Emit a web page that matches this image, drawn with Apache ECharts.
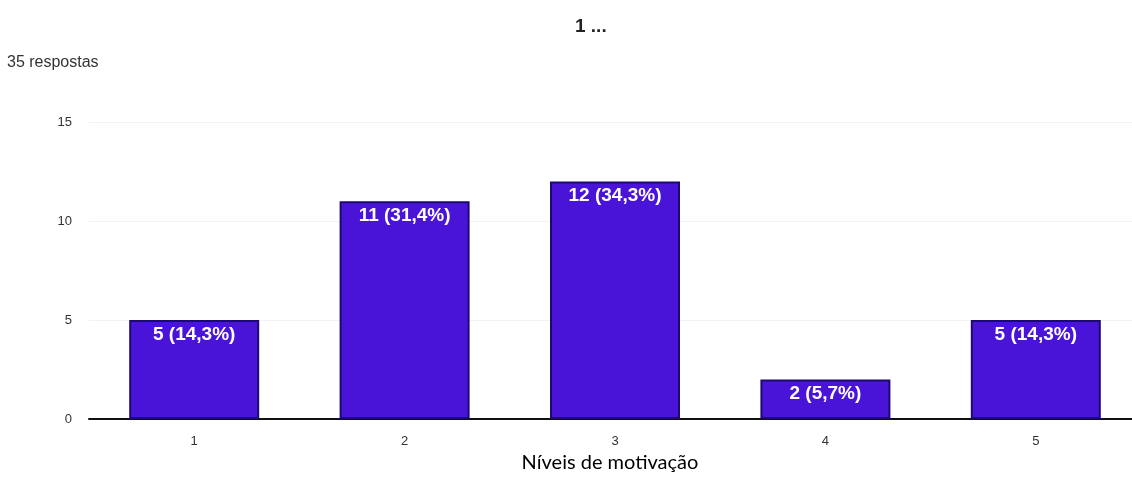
<!DOCTYPE html>
<html><head><meta charset="utf-8">
<script src="https://cdn.jsdelivr.net/npm/echarts@6/dist/echarts.min.js"></script>
<style>html,body{margin:0;padding:0;background:#fff}#c{width:1132px;height:477px}</style>
</head><body><div id="c"></div>
<script>
const categories = ['1', '2', '3', '4', '5'];
const counts = [5, 11, 12, 2, 5];
const percents = ['14,3%', '31,4%', '34,3%', '5,7%', '14,3%'];
const yTicks = [0, 5, 10, 15];

const chart = echarts.init(document.getElementById('c'));
chart.setOption({
  animation: false,
  title: [
    {text: '1 ...', left: 570, top: 12, textStyle: {fontSize: 19, fontWeight: 'bold', color: '#222', fontFamily: 'Liberation Sans'}},
    {text: '35 respostas', left: 2, top: 50, textStyle: {fontSize: 16, fontWeight: 'normal', color: '#333', fontFamily: 'Liberation Sans'}}
  ],
  grid: {left: 89, width: 1052, top: 122, bottom: 58, outerBoundsMode: 'none', containLabel: false},
  xAxis: {
    type: 'category', data: categories,
    name: 'Níveis de motivação', nameLocation: 'middle', nameGap: 29,
    nameTextStyle: {fontSize: 20, color: '#000', fontFamily: 'Lato', padding: [0, 10, 0, 0]},
    axisLine: {lineStyle: {color: '#111', width: 2}},
    axisTick: {show: false},
    axisLabel: {color: '#333', fontSize: 13, margin: 16, fontFamily: 'Liberation Sans'}
  },
  yAxis: {
    type: 'value', min: 0, max: 15, interval: 5,
    axisLine: {show: false}, axisTick: {show: false},
    axisLabel: {color: '#333', fontSize: 13, margin: 17, fontFamily: 'Liberation Sans',
      formatter: v => yTicks.includes(v) ? String(v) : ''},
    splitLine: {lineStyle: {color: '#f2f2f2'}}
  },
  series: [{
    type: 'bar', data: counts, barWidth: 130,
    itemStyle: {color: '#4a14d8', borderColor: '#1c0a70', borderWidth: 2},
    label: {show: true, position: 'insideTop', distance: 5, color: '#fff', fontWeight: 'bold', fontSize: 19,
      fontFamily: 'Liberation Sans',
      formatter: p => p.value + ' (' + percents[p.dataIndex] + ')'}
  }]
});
</script></body></html>
